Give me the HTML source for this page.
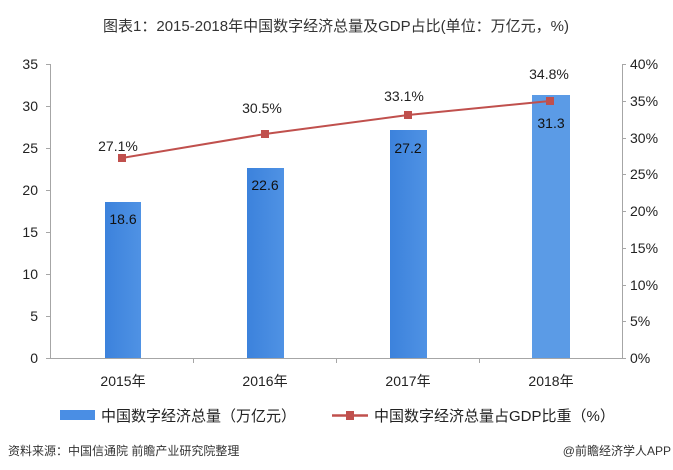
<!DOCTYPE html>
<html><head><meta charset="utf-8"><style>
body{margin:0;background:#fff;}
svg{display:block;font-family:"Liberation Sans","Noto Sans CJK SC",sans-serif;}
</style></head><body>
<svg width="673" height="470" viewBox="0 0 673 470" xmlns="http://www.w3.org/2000/svg">
<defs>
<linearGradient id="g" x1="0" y1="0" x2="1" y2="0">
<stop offset="0" stop-color="#3c82dc"/><stop offset="1" stop-color="#4f92e4"/>
</linearGradient>
</defs>
<rect width="673" height="470" fill="#fff"/>
<text x="336" y="31" font-size="15" text-anchor="middle" fill="#333">图表1：2015-2018年中国数字经济总量及GDP占比(单位：万亿元，%)</text>
<g stroke="#a6a6a6" stroke-width="1">
<line x1="50.5" y1="64" x2="50.5" y2="358"/>
<line x1="622.5" y1="64" x2="622.5" y2="358"/>
<line x1="50" y1="358.5" x2="622" y2="358.5"/>
<line x1="46" y1="64.5" x2="50" y2="64.5"/><line x1="46" y1="106.5" x2="50" y2="106.5"/><line x1="46" y1="148.5" x2="50" y2="148.5"/><line x1="46" y1="190.5" x2="50" y2="190.5"/><line x1="46" y1="232.5" x2="50" y2="232.5"/><line x1="46" y1="274.5" x2="50" y2="274.5"/><line x1="46" y1="316.5" x2="50" y2="316.5"/><line x1="46" y1="358.5" x2="50" y2="358.5"/>
<line x1="622" y1="64.5" x2="626" y2="64.5"/><line x1="622" y1="101.5" x2="626" y2="101.5"/><line x1="622" y1="138.5" x2="626" y2="138.5"/><line x1="622" y1="174.5" x2="626" y2="174.5"/><line x1="622" y1="211.5" x2="626" y2="211.5"/><line x1="622" y1="248.5" x2="626" y2="248.5"/><line x1="622" y1="285.5" x2="626" y2="285.5"/><line x1="622" y1="321.5" x2="626" y2="321.5"/><line x1="622" y1="358.5" x2="626" y2="358.5"/>
<line x1="193.5" y1="358" x2="193.5" y2="363"/><line x1="336.5" y1="358" x2="336.5" y2="363"/><line x1="479.5" y1="358" x2="479.5" y2="363"/>
</g>
<g font-size="14" fill="#222" text-anchor="end">
<text x="38" y="69">35</text><text x="38" y="111">30</text><text x="38" y="153">25</text><text x="38" y="195">20</text><text x="38" y="237">15</text><text x="38" y="279">10</text><text x="38" y="321">5</text><text x="38" y="363">0</text>
</g>
<g font-size="14" fill="#222">
<text x="630" y="69">40%</text><text x="630" y="106">35%</text><text x="630" y="143">30%</text><text x="630" y="179">25%</text><text x="630" y="216">20%</text><text x="630" y="253">15%</text><text x="630" y="290">10%</text><text x="630" y="326">5%</text><text x="630" y="363">0%</text>
</g>
<rect x="105" y="202" width="36" height="156" fill="url(#g)"/>
<rect x="247" y="168" width="37" height="190" fill="url(#g)"/>
<rect x="390" y="130" width="37" height="228" fill="url(#g)"/>
<rect x="532" y="95" width="38" height="263" fill="#5b9be6"/>
<g font-size="14" fill="#111" text-anchor="middle">
<text x="123" y="224">18.6</text><text x="265" y="190">22.6</text><text x="408" y="153">27.2</text><text x="551" y="128">31.3</text>
</g>
<polyline points="122,158 265,134 408,115 550,101" fill="none" stroke="#c0504d" stroke-width="2"/>
<g fill="#c0504d">
<rect x="118" y="154" width="8" height="8"/><rect x="261" y="130" width="8" height="8"/><rect x="404" y="111" width="8" height="8"/><rect x="546" y="97" width="8" height="8"/>
</g>
<g font-size="14" fill="#222" text-anchor="middle">
<text x="118" y="151">27.1%</text><text x="262" y="113">30.5%</text><text x="404" y="101">33.1%</text><text x="549" y="79">34.8%</text>
</g>
<g font-size="14" fill="#222" text-anchor="middle">
<text x="123" y="386">2015年</text><text x="265" y="386">2016年</text><text x="408" y="386">2017年</text><text x="551" y="386">2018年</text>
</g>
<rect x="60" y="410" width="35" height="10" fill="#4a8ee4"/>
<text x="101" y="421" font-size="15" fill="#222">中国数字经济总量（万亿元）</text>
<line x1="332" y1="415.5" x2="368" y2="415.5" stroke="#c0504d" stroke-width="2.5"/>
<rect x="346" y="411" width="8" height="9" fill="#c0504d"/>
<text x="374" y="421" font-size="15" fill="#222">中国数字经济总量占GDP比重（%）</text>
<text x="8" y="455" font-size="12" fill="#333">资料来源：中国信通院 前瞻产业研究院整理</text>
<text x="671" y="455" font-size="12" fill="#333" text-anchor="end">@前瞻经济学人APP</text>
</svg>
</body></html>
